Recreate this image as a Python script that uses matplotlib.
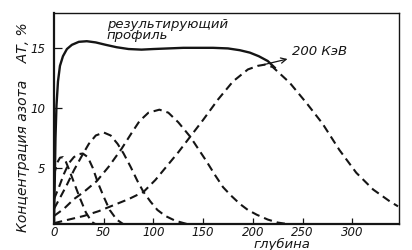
import matplotlib
matplotlib.use('Agg')
import matplotlib.pyplot as plt

# implanted nitrogen profiles (depth, at.%)
depth1 = [0, 3, 6, 9, 12, 15, 20, 26, 32, 38, 45]
conc1 = [4.4, 5.4, 5.85, 5.9, 5.5, 4.9, 3.8, 2.5, 1.3, 0.5, 0.15]

depth2 = [0, 5, 10, 15, 20, 25, 29, 34, 39, 44, 50, 56, 63, 70]
conc2 = [2.4, 3.4, 4.5, 5.4, 5.9, 6.15, 6.2, 5.9, 5.0, 3.8, 2.6, 1.5, 0.7, 0.3]

depth3 = [0, 6, 13, 20, 28, 35, 42, 50, 57, 64, 70, 77, 84, 90, 97, 104, 112, 122, 135, 150]
conc3 = [1.6, 2.5, 3.6, 4.8, 6.0, 7.0, 7.7, 7.95, 7.7, 7.0, 6.2, 5.1, 3.9, 3.0, 2.2, 1.5, 1.0, 0.6, 0.3, 0.1]

depth4 = [0, 10, 20, 30, 43, 55, 68, 78, 86, 95, 106, 115, 125, 137, 145, 153, 162, 170,
          178, 187, 195, 204, 215, 225, 237]
conc4 = [1.0, 1.6, 2.4, 3.0, 3.9, 5.1, 6.6, 7.9, 8.9, 9.6, 9.85, 9.6, 8.8, 7.6, 6.6, 5.6, 4.4, 3.4,
         2.7, 2.0, 1.5, 1.1, 0.7, 0.45, 0.3]

depth5 = [0, 15, 30, 45, 60, 75, 90, 102, 113, 125, 137, 150, 165, 180, 195, 205, 212, 220,
          237, 254, 270, 287, 304, 321, 338, 346]
conc5 = [0.4, 0.7, 1.0, 1.4, 1.9, 2.4, 3.0, 4.0, 5.1, 6.3, 7.6, 9.0, 10.7, 12.2, 13.2, 13.5, 13.6, 13.4,
         12.1, 10.4, 8.7, 6.5, 4.6, 3.2, 2.2, 1.8]

# resulting (summed) profile
depth_sum = [0, 0.8, 1.5, 2.5, 4, 6, 9, 13, 18, 25, 33, 42, 52, 63, 75, 88, 100, 115,
             130, 145, 160, 175, 187, 197, 206, 215, 222]
conc_sum = [0.3, 4.0, 7.5, 10.2, 12.2, 13.5, 14.3, 14.9, 15.25, 15.5, 15.55, 15.45, 15.25, 15.05, 14.9, 14.85, 14.9, 14.95,
            15.0, 15.0, 15.0, 14.95, 14.8, 14.6, 14.3, 13.9, 13.35]

x_ticks = [0, 50, 100, 150, 200, 250, 300]
y_ticks = [5, 10, 15]

ink = '#151515'
dash = (0, (4, 2.4))

fig = plt.figure(figsize=(4.12, 2.5), dpi=100)
ax = fig.add_axes([54 / 412, 26 / 250, 345 / 412, 211 / 250])

for d, c in [(depth1, conc1), (depth2, conc2), (depth3, conc3), (depth4, conc4), (depth5, conc5)]:
    ax.plot(d, c, color=ink, lw=1.5, linestyle=dash)
ax.plot(depth_sum, conc_sum, color=ink, lw=1.7)

ax.set_xlim(0, 347)
ax.set_ylim(0.33, 17.9)
ax.set_xticks(x_ticks)
ax.set_yticks(y_ticks)
ax.set_xticklabels([str(t) for t in x_ticks], fontsize=8.5, style='italic')
ax.set_yticklabels([str(t) for t in y_ticks], fontsize=8.5, style='italic')
ax.tick_params(axis='x', direction='in', length=4, width=0.9, pad=1.5, colors=ink)
ax.tick_params(axis='y', direction='in', length=6, width=0.9, pad=6, colors=ink)
for side in ['left', 'bottom']:
    ax.spines[side].set_linewidth(1.6)
for side in ['top', 'right']:
    ax.spines[side].set_linewidth(1.0)
for s in ax.spines.values():
    s.set_color(ink)

ax.text(53, 16.45, 'результирующий\nпрофиль', fontsize=9.5, style='italic', color=ink,
        va='center', ha='left', linespacing=0.8)

ax.annotate('200 КэВ', xy=(211, 13.6), xytext=(239, 14.7), fontsize=9.5, style='italic',
            color=ink, va='center', ha='left',
            arrowprops=dict(arrowstyle='<-', color=ink, lw=0.9, shrinkA=1, shrinkB=0))

fig.text(23 / 412, 0.49, 'Концентрация азота    АТ, %', rotation=90, fontsize=10,
         style='italic', color=ink, ha='center', va='center')
fig.text(282 / 412, 0.022, 'глубина', fontsize=9.5, style='italic', color=ink,
         ha='center', va='center')

fig.savefig('out.png', dpi=100)
